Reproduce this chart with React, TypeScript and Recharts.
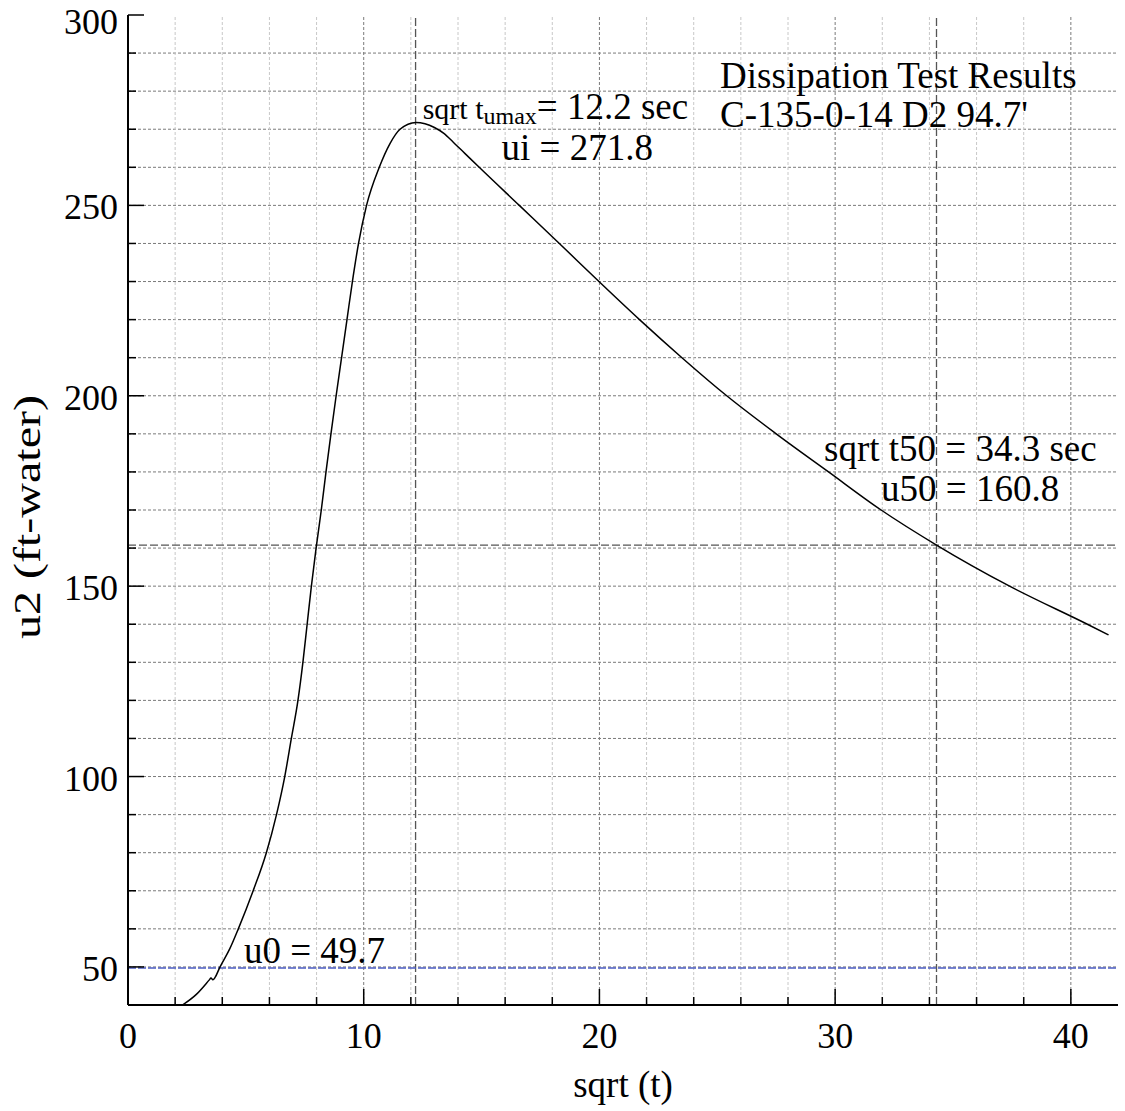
import React from 'react';
import { ComposedChart, Line, XAxis, YAxis, ReferenceLine, ReferenceDot } from 'recharts';

const sqrtT = [2.31, 2.9, 3.45, 3.52, 3.6, 3.7, 3.88, 4.32, 4.68, 5.31, 5.87, 6.3, 6.65, 6.93, 7.21, 7.42, 7.6, 7.78, 7.98, 8.2, 8.4, 8.61, 8.83, 9.06, 9.29, 9.52, 9.78, 10.12, 10.66, 11.12, 11.54, 12.22, 12.6, 13.0, 13.4, 13.8, 14.3, 14.9, 16.6, 18.3, 19.98, 21.7, 23.5, 25.4, 27.5, 29.72, 31.95, 34.3, 37.4, 40.7, 41.6];
const u2Values = [40, 42.8, 46.6, 47.1, 46.6, 47.3, 49.7, 54.8, 60, 70, 80, 90, 100, 110, 120, 130, 140, 150, 160, 170, 180, 190, 200, 210, 220, 230, 240, 250, 260, 266.3, 270, 271.8, 271.45, 270.45, 268.9, 266.6, 263.6, 260, 250, 240, 230, 220, 210, 200, 190, 180, 170, 160.8, 150, 140, 137.2];

const xTicks = [0, 2, 4, 6, 8, 10, 12, 14, 16, 18, 20, 22, 24, 26, 28, 30, 32, 34, 36, 38, 40];
const xMajor = [0, 10, 20, 30, 40];
const yTicks = [40, 50, 60, 70, 80, 90, 100, 110, 120, 130, 140, 150, 160, 170, 180, 190, 200, 210, 220, 230, 240, 250, 260, 270, 280, 290, 300];
const yMajor = [50, 100, 150, 200, 250, 300];
const xDomain = [0, 42];
const yDomain = [40, 300];

const tUmax = 12.2;
const ui = 271.8;
const t50 = 34.3;
const u50 = 160.8;
const u0 = 49.7;

const titleLines = ['Dissipation Test Results', "C-135-0-14 D2 94.7'"];
const titlePos = [[25.12, 280.75], [25.12, 270.67]];
const umaxPos = [12.5, 272.7];
const uiPos = [15.85, 261.9];
const t50Pos = [29.53, 182.95];
const u50Pos = [31.95, 172.4];
const u0Pos = [4.92, 50.95];

const data = sqrtT.map((x, i) => ({ x, y: u2Values[i] }));

const FONT = '"Liberation Serif", "Times New Roman", serif';
const FS = 37;
const TFS = 36;
const YFS = 38;
const MAJ = 16;
const MIN = 8;

const BottomTick = (p: any) => {
  const v = p.payload.value;
  const major = xMajor.includes(v);
  return (
    <g>
      <line x1={p.x} x2={p.x} y1={p.y} y2={p.y - (major ? MAJ : MIN)} stroke="#000" strokeWidth={1.5} />
      {major && (
        <text x={p.x} y={p.y + 43} textAnchor="middle" fontFamily={FONT} fontSize={TFS} fill="#000">{v}</text>
      )}
    </g>
  );
};
const TopTick = (p: any) => {
  const v = p.payload.value;
  const major = xMajor.includes(v);
  return <line x1={p.x} x2={p.x} y1={p.y} y2={p.y + (major ? MAJ : MIN)} stroke="#000" strokeWidth={1.5} />;
};
const LeftTick = (p: any) => {
  const v = p.payload.value;
  const major = yMajor.includes(v);
  const dy = v === yDomain[1] ? 7 : 2;
  return (
    <g>
      <line x1={p.x} x2={p.x + (major ? MAJ : MIN)} y1={p.y} y2={p.y} stroke="#000" strokeWidth={1.5} />
      {major && (
        <text x={p.x - 10} y={p.y + dy} textAnchor="end" dominantBaseline="central" fontFamily={FONT} fontSize={TFS} fill="#000">{v}</text>
      )}
    </g>
  );
};
const RightTick = (p: any) => {
  const v = p.payload.value;
  const major = yMajor.includes(v);
  return <line x1={p.x} x2={p.x - (major ? MAJ : MIN)} y1={p.y} y2={p.y} stroke="#000" strokeWidth={1.5} />;
};

const txt = (content: React.ReactNode, anchor = 'start') => (p: any) => (
  <text x={p.cx} y={p.cy} textAnchor={anchor} fontFamily={FONT} fontSize={FS} fill="#000">{content}</text>
);

const YLabel = (p: any) => {
  const vb = p.viewBox || {};
  const edge = vb.width && vb.width < 300 ? vb.x + vb.width : vb.x;
  const top = vb.y || 15;
  const h = vb.height || 990;
  const cx = edge - 88;
  const cy = top + h / 2 + 7;
  return (
    <text x={cx} y={cy} transform={`rotate(-90 ${cx} ${cy})`} textAnchor="middle" textLength={244} lengthAdjust="spacingAndGlyphs" fontFamily={FONT} fontSize={YFS} fill="#000">u2 (ft-water)</text>
  );
};
const XLabel = (p: any) => {
  const vb = p.viewBox || {};
  return (
    <text x={vb.x + vb.width / 2} y={vb.y + 92} textAnchor="middle" fontFamily={FONT} fontSize={FS} fill="#000">sqrt (t)</text>
  );
};

export default function App() {
  return (
    <div style={{ width: 1125, height: 1111, background: '#fff', position: 'absolute', left: 0, top: 0 }}>
      <style>{`body{margin:0}`}</style>
      <ComposedChart width={1125} height={1111} data={data} margin={{ top: 15, right: 7, bottom: 0, left: 0 }}>
        <XAxis dataKey="x" type="number" domain={xDomain} ticks={xTicks} interval={0} height={106} tickSize={0} tickMargin={0} tickLine={false} axisLine={{ stroke: '#000', strokeWidth: 2 }} tick={<BottomTick />} allowDataOverflow label={<XLabel />} />
        <XAxis xAxisId="top" orientation="top" dataKey="x" type="number" domain={xDomain} ticks={xTicks} interval={0} height={0} tickSize={0} tickMargin={0} tickLine={false} axisLine={{ stroke: '#000', strokeWidth: 2 }} tick={<TopTick />} allowDataOverflow />
        <YAxis type="number" domain={yDomain} ticks={yTicks} interval={0} width={128} tickSize={0} tickMargin={0} tickLine={false} axisLine={{ stroke: '#000', strokeWidth: 2 }} tick={<LeftTick />} allowDataOverflow label={<YLabel />} />
        <YAxis yAxisId="right" orientation="right" type="number" domain={yDomain} ticks={yTicks} interval={0} width={0} tickSize={0} tickMargin={0} tickLine={false} axisLine={{ stroke: '#000', strokeWidth: 2 }} tick={<RightTick />} allowDataOverflow />

        {yTicks.filter((v) => v > yDomain[0] && v < yDomain[1]).map((v) => (
          <ReferenceLine key={'h' + v} y={v} stroke="#7a7a7a" strokeWidth={1} strokeDasharray="3 2" />
        ))}
        {xTicks.filter((v) => v > 0).map((v) => (
          <ReferenceLine key={'v' + v} x={v} stroke={xMajor.includes(v) ? '#7a7a7a' : '#c8c8c8'} strokeWidth={1} strokeDasharray="3 2" />
        ))}

        <ReferenceLine x={tUmax} stroke="#555" strokeWidth={1.3} strokeDasharray="8 3" />
        <ReferenceLine x={t50} stroke="#555" strokeWidth={1.3} strokeDasharray="8 3" />
        <ReferenceLine y={u50} stroke="#555" strokeWidth={1.3} strokeDasharray="8 3" />
        <ReferenceLine y={u0} stroke="#4b5cc4" strokeWidth={1.5} strokeDasharray="8 2" />

        <Line type="monotone" dataKey="y" stroke="#000" strokeWidth={1.5} dot={false} isAnimationActive={false} />

        {titleLines.map((t, i) => (
          <ReferenceDot key={'t' + i} x={titlePos[i][0]} y={titlePos[i][1]} r={0} ifOverflow="visible" shape={txt(t)} />
        ))}
        <ReferenceDot x={umaxPos[0]} y={umaxPos[1]} r={0} ifOverflow="visible" shape={(p: any) => (
          <text x={p.cx} y={p.cy} fontFamily={FONT} fill="#000">
            <tspan fontSize={30}>sqrt t</tspan>
            <tspan fontSize={24} dy={5}>umax</tspan>
            <tspan fontSize={FS} dy={-5}>{`= ${tUmax} sec`}</tspan>
          </text>
        )} />
        <ReferenceDot x={uiPos[0]} y={uiPos[1]} r={0} ifOverflow="visible" shape={txt(`ui = ${ui}`)} />
        <ReferenceDot x={t50Pos[0]} y={t50Pos[1]} r={0} ifOverflow="visible" shape={txt(`sqrt t50 = ${t50} sec`)} />
        <ReferenceDot x={u50Pos[0]} y={u50Pos[1]} r={0} ifOverflow="visible" shape={txt(`u50 = ${u50}`)} />
        <ReferenceDot x={u0Pos[0]} y={u0Pos[1]} r={0} ifOverflow="visible" shape={txt(`u0 = ${u0}`)} />
      </ComposedChart>
    </div>
  );
}
